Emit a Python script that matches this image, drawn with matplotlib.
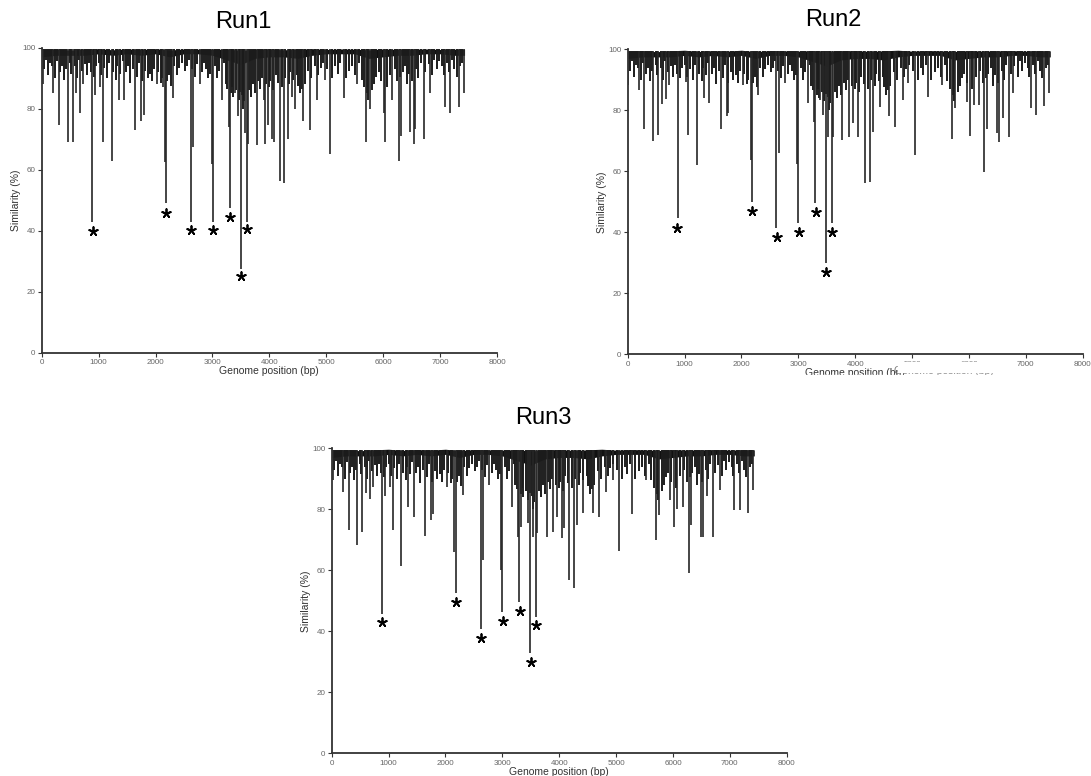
import matplotlib
matplotlib.use('Agg')
import matplotlib.pyplot as plt
from matplotlib.patches import Rectangle

plt.rcParams['font.family'] = ['Liberation Sans', 'DejaVu Sans']

# deep / medium dips (position bp, similarity %)
run1_pos = [18, 205, 305, 470, 545, 600, 675, 730, 890, 940, 1025, 1075, 1230, 1350, 1450,
            1640, 1745, 1790, 2020, 2140, 2170, 2185, 2300, 2620, 2665, 2785, 2990, 3005,
            3165, 3290, 3310, 3400, 3445, 3500, 3570, 3605, 3620, 3780, 3900, 3915, 3970,
            4045, 4085, 4190, 4260, 4320, 4395, 4455, 4600, 4720, 4835, 4980, 5070, 5305,
            5540, 5700, 5775, 6010, 6040, 6155, 6285, 6310, 6475, 6535, 6565, 6710, 6830,
            7090, 7180, 7325, 7425]
run1_val = [88, 85, 74.6, 69, 69, 85, 78.5, 88, 43, 84.5, 87, 69, 63, 83, 83,
            73, 76, 78, 88, 87, 62.5, 49, 83.5, 43, 67.5, 88, 62, 43,
            83, 74, 47.5, 85, 77.5, 27.5, 72, 43, 68.5, 68, 83, 68.5, 74.5,
            70, 69, 56.4, 55.7, 70, 84, 80, 76, 73, 83, 89.5, 65.3, 83.5,
            88, 69, 80, 78.5, 69, 83, 63, 71, 72.5, 68.4, 73.5, 70, 85,
            80.6, 78.5, 80.6, 85]

run2_pos = [10, 200, 293, 445, 527, 600, 675, 733, 880, 1020, 1067, 1219, 1348, 1436,
            1635, 1740, 1764, 2034, 2163, 2180, 2297, 2608, 2661, 2772, 2977, 3000,
            3165, 3282, 3300, 3382, 3440, 3487, 3528, 3587, 3605, 3763, 3891, 3956,
            4044, 4179, 4255, 4320, 4437, 4595, 4700, 4835, 4935, 5052, 5287, 5521,
            5703, 5755, 5960, 6019, 6095, 6183, 6271, 6312, 6488, 6535, 6605, 6705,
            6781, 7086, 7180, 7320, 7408]
run2_val = [88.3, 86.7, 74, 70, 72, 82, 83.6, 88.3, 44.6, 89.4, 72, 62, 84, 82.3,
            73.8, 78, 79, 88.3, 63.7, 50, 85, 41.5, 66, 89, 62.3, 43,
            82.3, 76, 49.7, 83.4, 78.5, 29.8, 71.4, 43.2, 71.4, 70.3, 71.4, 75.7,
            71.4, 56.3, 56.6, 73, 81.2, 78, 74.6, 83.4, 88.9, 65.4, 84.5, 88.3,
            70.5, 80.7, 82.8, 71.6, 81.7, 81.7, 59.9, 74, 72.5, 69.7, 77.4, 71.4,
            85.6, 80.7, 78.5, 81.4, 85.6]

run3_pos = [18, 193, 300, 445, 527, 604, 674, 733, 885, 938, 1026, 1073, 1225, 1348, 1442,
            1641, 1741, 1776, 2022, 2157, 2186, 2303, 2620, 2661, 2772, 2977, 3000,
            3165, 3282, 3300, 3329, 3446, 3487, 3546, 3587, 3616, 3780, 3897, 3956,
            4044, 4085, 4179, 4261, 4320, 4425, 4589, 4695, 4824, 4952, 5052, 5286,
            5527, 5697, 5755, 5949, 6019, 6078, 6183, 6277, 6312, 6488, 6535, 6594,
            6699, 6828, 7080, 7180, 7314, 7414]
run3_val = [89.6, 85.8, 73.2, 68.3, 72.7, 85.2, 83.3, 87.4, 45.7, 84.4, 87.4, 73.2, 61.4, 80.9, 77.6,
            71.3, 76.5, 78.5, 87.4, 66.1, 52.7, 84.7, 40.7, 63.4, 88, 60.1, 46.4,
            80.9, 71, 49.7, 74.3, 75.4, 32.8, 71, 44.8, 72.1, 71, 72.7, 77.6,
            70.5, 73.8, 56.8, 54.1, 74.9, 78.7, 78.7, 77.6, 85.8, 89.6, 66.3, 78.5,
            89.6, 69.9, 78.1, 83.1, 74.1, 80.1, 80.9, 59.2, 74.9, 71, 71, 84.2,
            71, 86.3, 79.8, 79.8, 78.7, 86.3]

# shallow dips, same pattern in all three runs
shallow_pos = [40, 75, 110, 140, 175, 230, 265, 320, 355, 395, 430, 490, 520, 580, 620, 655,
               705, 760, 800, 835, 870, 920, 960,
               1000, 1045, 1100, 1140, 1180, 1260, 1300, 1330, 1380, 1420, 1480, 1520, 1560,
               1600, 1670, 1710, 1770, 1820, 1860, 1900, 1940, 1980,
               2050, 2100, 2120, 2210, 2240, 2270, 2330, 2380, 2420, 2460, 2520, 2560, 2590,
               2640, 2690, 2730, 2810, 2850, 2890, 2930, 2960,
               3040, 3080, 3120, 3200, 3230, 3260, 3320, 3350, 3370, 3420, 3460, 3480, 3520,
               3540, 3560, 3640, 3680, 3720, 3750, 3800, 3840, 3870, 3940, 3990,
               4020, 4060, 4110, 4150, 4220, 4280, 4340, 4370, 4420, 4480, 4510, 4540, 4570,
               4620, 4680, 4740, 4800, 4860, 4900, 4950,
               5020, 5100, 5150, 5200, 5250, 5340, 5400, 5450, 5500, 5580, 5620, 5660, 5720,
               5740, 5800, 5840, 5880, 5920, 5970,
               6060, 6120, 6200, 6240, 6300, 6340, 6380, 6420, 6450, 6510, 6580, 6620, 6660,
               6740, 6800, 6860, 6900, 6940, 6980,
               7040, 7060, 7120, 7160, 7210, 7250, 7290, 7350, 7390]
shallow_val = [93, 96, 91, 95, 94, 90, 95.5, 92, 94, 89.5, 93, 95, 91.5, 94, 90, 96,
               92.5, 94.5, 91, 95, 92, 90.5, 94,
               95, 91, 93.5, 90, 95, 92, 89.5, 94, 91.5, 95.5, 92, 94, 88.5,
               93, 90.5, 95, 89, 92.5, 90, 91.5, 89, 93,
               92, 88.5, 90, 89, 91, 87.5, 94, 91, 93.5, 95, 92.5, 94, 96,
               93, 90.5, 94.5, 92, 95, 93, 90, 91.5,
               94, 90, 92.5, 95, 88, 86.5, 85, 87, 84, 86, 83, 85.5, 84.5,
               80, 82.5, 86, 84, 88, 85, 89, 86.5, 90, 88, 87,
               89, 86, 91, 88.5, 87, 90, 88, 92, 89.5, 91, 87.5, 85, 86.5,
               88, 92.5, 90, 94, 91, 93.5, 95,
               93, 90, 94, 91.5, 95, 90, 92.5, 94, 91, 95, 89.5, 87, 85,
               83, 86, 88, 90.5, 92, 89,
               87, 91, 93, 89, 90.5, 92, 94, 88, 91.5, 89, 93, 90, 95,
               92, 94.5, 91, 96, 93, 95.5,
               94, 91, 95, 92, 96, 93, 90.5, 94, 95]

# dense black band at the top: lower and upper edge along the genome
band_pos = [0, 250, 500, 750, 1000, 1250, 1500, 1750, 2000, 2250, 2500, 2750, 3000, 3250,
            3500, 3750, 4000, 4250, 4500, 4750, 5000, 5250, 5500, 5750, 6000, 6250, 6500,
            6750, 7000, 7250, 7430]
band_low = [97, 97.5, 97.5, 97.5, 98, 97.5, 98, 97.5, 98, 97, 98, 98, 97.5, 96,
            94.5, 96.5, 97, 97, 96.5, 97.5, 98, 98, 98, 96.5, 97, 97.5, 97.5,
            98, 98, 97.5, 97.5]
band_top = [99.4, 99.6, 99.2, 99.5, 99.7, 99.3, 99.6, 99.4, 99.7, 99.2, 99.6, 99.5, 99.4, 99.6,
            99.1, 99.5, 99.6, 99.3, 99.5, 99.7, 99.4, 99.6, 99.5, 99.3, 99.6, 99.4, 99.5,
            99.6, 99.4, 99.5, 99.5]

# asterisks marking the deep dips
star1_pos = [897, 2186, 2620, 3007, 3300, 3500, 3605]
star1_val = [40, 45.9, 40.2, 40.2, 44.4, 25.1, 40.6]
star2_pos = [873, 2192, 2620, 3007, 3306, 3493, 3599]
star2_val = [41.3, 47, 38.4, 40, 46.7, 26.9, 40]
star3_pos = [891, 2186, 2620, 3007, 3311, 3499, 3599]
star3_val = [43, 49.5, 37.9, 43.4, 46.8, 29.8, 42]

runs = [('Run1', run1_pos, run1_val, star1_pos, star1_val),
        ('Run2', run2_pos, run2_val, star2_pos, star2_val),
        ('Run3', run3_pos, run3_val, star3_pos, star3_val)]

W, H = 1091, 776
fig = plt.figure(figsize=(W / 100, H / 100), dpi=100)

# axes boxes in pixels (left, top, right, bottom) and title centre
boxes = [(41.7, 47.7, 497.0, 352.7), (627.7, 49.3, 1082.7, 354.3), (331.7, 448.3, 786.7, 753.3)]
title_xy = [(243, 22), (833, 20), (543, 418)]

for (name, pos, val, spos, sval), (l, t, r, b), (tx, ty) in zip(runs, boxes, title_xy):
    ax = fig.add_axes([l / W, 1 - b / H, (r - l) / W, (b - t) / H])
    ax.fill_between(band_pos, band_low, band_top, color='#111111', lw=0)
    ax.vlines(shallow_pos, shallow_val, 99.5, color='#1c1c1c', lw=1.4)
    ax.vlines(pos, val, 99.5, color='#262626', lw=1.2)
    ax.scatter(spos, sval, marker=(5, 2, 0), s=40, color='black', lw=1.3, zorder=5)

    ax.set_xlim(0, 8000)
    ax.set_ylim(0, 100)
    ax.set_xticks(range(0, 8001, 1000))
    ax.set_yticks(range(0, 101, 20))
    ax.tick_params(labelsize=5.8, colors='#333333', labelcolor='#666666', length=3, width=0.8, pad=1.5)
    for s in ['top', 'right']:
        ax.spines[s].set_visible(False)
    for s in ['left', 'bottom']:
        ax.spines[s].set_color('#333333')
        ax.spines[s].set_linewidth(1.3)
    ax.set_ylabel('Similarity (%)', fontsize=7.5, color='#333333', labelpad=1)
    ax.set_xlabel('Genome position (bp)', fontsize=7.5, color='#333333', labelpad=0)
    fig.text(tx / W, 1 - ty / H, name, fontsize=17, ha='center', va='center')

# Run2 has a half-hidden duplicate of its x label
fig.text(944 / W, 1 - 371 / H, 'Genome position (bp)', fontsize=7.5, color='#777777', ha='center', va='center')
fig.add_artist(Rectangle((898 / W, 1 - 371.5 / H), 100 / W, 10 / H, transform=fig.transFigure,
                         color='white', zorder=20))
fig.add_artist(Rectangle((800 / W, 1 - 382 / H), 200 / W, 7 / H, transform=fig.transFigure,
                         color='white', zorder=20))

plt.savefig('out.png', dpi=100)
